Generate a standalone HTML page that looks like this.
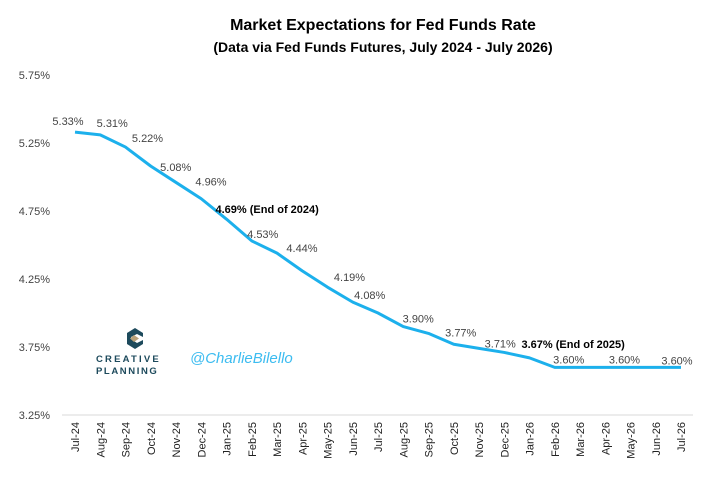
<!DOCTYPE html>
<html><head><meta charset="utf-8"><style>
body{margin:0;background:#fff;width:706px;height:474px;overflow:hidden;font-family:"Liberation Sans",sans-serif}
</style></head><body>
<svg width="706" height="474" id="chart">
<text x="383" y="30" text-anchor="middle" font-size="16" font-weight="bold" fill="#000">Market Expectations for Fed Funds Rate</text>
<text x="383" y="52" text-anchor="middle" font-size="14" font-weight="bold" fill="#000">(Data via Fed Funds Futures, July 2024 - July 2026)</text>
<line x1="62" y1="415" x2="693" y2="415" stroke="#d9d9d9" stroke-width="1"/>
<g>
<path d="M143 333 L135 328 L127 333 L127 344 L135 349 L143 344 L143 340 L137 343 L131 339 L131 337 L137 334 L143 337 Z" fill="#1d4a5c"/>
<path d="M134 335 L139 338.5 L134 342 L130 338.5 Z" fill="#b9a27a"/>
<text x="96" y="362" font-size="9.5" font-weight="bold" fill="#1d4a5c" letter-spacing="2.2">CREATIVE</text>
<text x="96" y="374" font-size="9.5" font-weight="bold" fill="#1d4a5c" letter-spacing="1.6">PLANNING</text>
</g>
<text x="190" y="363" font-size="15" font-style="italic" fill="#3cbcf0">@CharlieBilello</text>
<g id="yax"></g><g id="xax"></g><g id="series"></g><g id="labels"></g>
</svg>
<script>
const categories=["Jul-24","Aug-24","Sep-24","Oct-24","Nov-24","Dec-24","Jan-25","Feb-25","Mar-25","Apr-25","May-25","Jun-25","Jul-25","Aug-25","Sep-25","Oct-25","Nov-25","Dec-25","Jan-26","Feb-26","Mar-26","Apr-26","May-26","Jun-26","Jul-26"];
const rates=[5.33,5.31,5.22,5.08,4.96,4.84,4.69,4.53,4.44,4.31,4.19,4.08,4.00,3.90,3.85,3.77,3.74,3.71,3.67,3.60,3.60,3.60,3.60,3.60,3.60];
const yTicks=[3.25,3.75,4.25,4.75,5.25,5.75];
const labelIdx=[0,1,2,3,4,6,7,8,10,11,13,15,17,18,19,22,24];
const labelText=["5.33%","5.31%","5.22%","5.08%","4.96%","4.69% (End of 2024)","4.53%","4.44%","4.19%","4.08%","3.90%","3.77%","3.71%","3.67% (End of 2025)","3.60%","3.60%","3.60%"];
const labelDx=[-7,12,22,25,35,-11,11,25,22,17,15,7,-4,-8,14,-6,-4];
const labelDy=[-7,-8,-5,5,3,-6,-3,-1,-6,-3,-4,-8,-5,-10,-4,-4,-3];
const labelBold=[0,0,0,0,0,1,0,0,0,0,0,0,0,1,0,0,0];
const NS="http://www.w3.org/2000/svg";
const X=i=>75+i*(681-75)/24;
const Y=v=>415-(v-3.25)*136;
const yax=document.getElementById('yax'),xax=document.getElementById('xax'),ser=document.getElementById('series'),lab=document.getElementById('labels');
yTicks.forEach(t=>{const e=document.createElementNS(NS,'text');


e.setAttribute('x',50);e.setAttribute('y',Y(t)+4);e.setAttribute('text-anchor','end');e.setAttribute('font-size','11');e.setAttribute('fill','#444');e.textContent=t.toFixed(2)+'%';yax.appendChild(e);});
categories.forEach((c,i)=>{const e=document.createElementNS(NS,'text');


e.setAttribute('transform','translate('+(X(i)+4)+',422) rotate(-90)');e.setAttribute('text-anchor','end');e.setAttribute('font-size','11');e.setAttribute('fill','#222');e.textContent=c;xax.appendChild(e);});
const p=document.createElementNS(NS,'polyline');


p.setAttribute('points',rates.map((v,i)=>X(i)+','+Y(v)).join(' '));p.setAttribute('fill','none');p.setAttribute('stroke','#1cb0ec');p.setAttribute('stroke-width','3');p.setAttribute('stroke-linejoin','round');ser.appendChild(p);
labelIdx.forEach((idx,k)=>{const e=document.createElementNS(NS,'text');


const bold=labelBold[k];
e.setAttribute('x',X(idx)+labelDx[k]);e.setAttribute('y',Y(rates[idx])+labelDy[k]);
e.setAttribute('text-anchor',bold?'start':'middle');e.setAttribute('font-size','11');
e.setAttribute('fill',bold?'#000':'#444');if(bold)e.setAttribute('font-weight','bold');
e.textContent=labelText[k];lab.appendChild(e);});
</script>
</body></html>
